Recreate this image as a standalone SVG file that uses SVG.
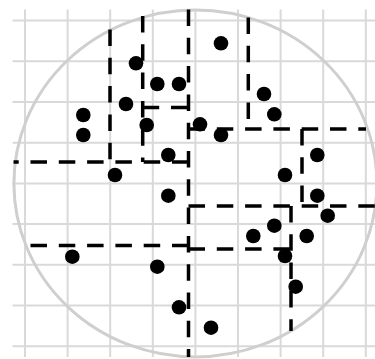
<svg xmlns="http://www.w3.org/2000/svg" width="375" height="359" viewBox="0 0 375 359">
<style>
.grid line{stroke:#d9d9d9;stroke-width:2;fill:none}
.circ{fill:none;stroke:#cfcfcf;stroke-width:3}
.split line{stroke:#000;stroke-width:3.5;stroke-dasharray:16.5 11.8;fill:none}
.pts circle{fill:#000}
</style>
<rect x="0" y="0" width="375" height="359" fill="#fff"/>
<g id="grid" class="grid">
<line x1="25" y1="9.5" x2="25" y2="357"/>
<line x1="67.6" y1="9.5" x2="67.6" y2="357"/>
<line x1="110.2" y1="9.5" x2="110.2" y2="357"/>
<line x1="152.8" y1="9.5" x2="152.8" y2="357"/>
<line x1="195.4" y1="9.5" x2="195.4" y2="357"/>
<line x1="238" y1="9.5" x2="238" y2="357"/>
<line x1="280.6" y1="9.5" x2="280.6" y2="357"/>
<line x1="323.2" y1="9.5" x2="323.2" y2="357"/>
<line x1="365.8" y1="9.5" x2="365.8" y2="357"/>
<line x1="12.5" y1="20.6" x2="375" y2="20.6"/>
<line x1="12.5" y1="61.3" x2="375" y2="61.3"/>
<line x1="12.5" y1="102" x2="375" y2="102"/>
<line x1="12.5" y1="142.7" x2="375" y2="142.7"/>
<line x1="12.5" y1="183.4" x2="375" y2="183.4"/>
<line x1="12.5" y1="224.1" x2="375" y2="224.1"/>
<line x1="12.5" y1="264.8" x2="375" y2="264.8"/>
<line x1="12.5" y1="305.5" x2="375" y2="305.5"/>
<line x1="12.5" y1="346.2" x2="375" y2="346.2"/>
</g>
<ellipse id="boundary" class="circ" cx="195.4" cy="183.4" rx="181.5" ry="173.5"/>
<g id="splits" class="split">
<line x1="188.5" y1="9.5" x2="188.5" y2="357"/>
<line x1="188.5" y1="162" x2="13.5" y2="162"/>
<line x1="188.5" y1="245.5" x2="26" y2="245.5"/>
<line x1="110" y1="29.5" x2="110" y2="162"/>
<line x1="142.7" y1="16" x2="142.7" y2="162"/>
<line x1="142.7" y1="107.5" x2="188.5" y2="107.5"/>
<line x1="248.3" y1="17.5" x2="248.3" y2="129"/>
<line x1="188.5" y1="129" x2="366" y2="129"/>
<line x1="302" y1="129" x2="302" y2="206"/>
<line x1="188.5" y1="206" x2="375" y2="206"/>
<line x1="291" y1="206" x2="291" y2="331"/>
<line x1="188.5" y1="249" x2="291" y2="249"/>
</g>
<g id="points" class="pts">
<circle cx="221" cy="43.3" r="7.3"/>
<circle cx="136" cy="63.3" r="7.3"/>
<circle cx="157.3" cy="84" r="7.3"/>
<circle cx="179" cy="84" r="7.3"/>
<circle cx="264" cy="94" r="7.3"/>
<circle cx="126" cy="104" r="7.3"/>
<circle cx="83.3" cy="115" r="7.3"/>
<circle cx="274.3" cy="114.3" r="7.3"/>
<circle cx="146.7" cy="125" r="7.3"/>
<circle cx="200" cy="124.3" r="7.3"/>
<circle cx="221" cy="135" r="7.3"/>
<circle cx="83.3" cy="135" r="7.3"/>
<circle cx="168.3" cy="155" r="7.3"/>
<circle cx="317.3" cy="155" r="7.3"/>
<circle cx="115" cy="175" r="7.3"/>
<circle cx="285" cy="175" r="7.3"/>
<circle cx="168.3" cy="195.7" r="7.3"/>
<circle cx="317.3" cy="195.7" r="7.3"/>
<circle cx="327.7" cy="215.7" r="7.3"/>
<circle cx="274.3" cy="225.7" r="7.3"/>
<circle cx="253.3" cy="236" r="7.3"/>
<circle cx="306.7" cy="236" r="7.3"/>
<circle cx="72.3" cy="256.7" r="7.3"/>
<circle cx="285" cy="256" r="7.3"/>
<circle cx="157.3" cy="266.7" r="7.3"/>
<circle cx="295.7" cy="286.7" r="7.3"/>
<circle cx="179" cy="307.3" r="7.3"/>
<circle cx="211" cy="327.7" r="7.3"/>
</g>
</svg>
